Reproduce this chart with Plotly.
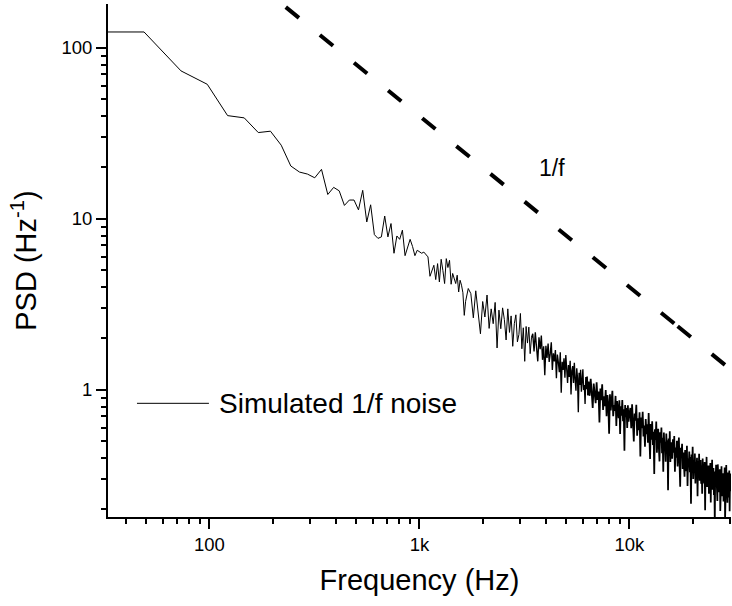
import plotly.graph_objects as go

# ---------------- data ----------------
DF = 24.414  # FFT bin width (Hz)

# individually resolved low-frequency bins 1..70
bins_a = list(range(1, 71))
psd_a = [124, 124, 73.4, 61.3, 40.2, 39.0, 32.0, 32.6, 27.0, 20.4,
         18.8, 18.3, 17.4, 19.5, 13.9, 15.3, 14.6, 12.0, 12.9, 12.9,
         11.3, 14.7, 9.6, 12.1, 8.1, 7.7, 7.85, 10.4, 7.85, 9.4,
         6.3, 7.95, 7.6, 8.6, 6.1, 6.8, 7.6, 6.9, 6.1, 6.56,
         6.4, 6.3, 6.4, 6.2, 6.0, 4.62, 5.0, 5.36, 4.42, 5.48,
         4.28, 5.81, 5.0, 4.19, 5.86, 5.2, 5.73, 4.15, 4.8, 4.5,
         4.19, 4.69, 3.74, 4.38, 4.1, 3.7, 2.73, 3.3, 3.6, 3.92]

bins_b1 = list(range(72, 141, 2))
psd_b1 = [3.66, 2.64, 3.80, 2.81, 2.13, 3.29, 2.67, 3.59, 2.29, 2.98,
          2.44, 3.25, 1.76, 2.93, 2.28, 3.02, 2.58, 1.96, 2.98, 2.17,
          2.71, 1.80, 2.44, 2.75, 1.91, 2.11, 2.80, 1.74, 2.31, 1.47,
          2.35, 1.88, 2.33, 1.63, 2.02]

bins_b2 = list(range(142, 261, 2))
psd_b2 = [2.13, 1.68, 2.17, 1.77, 1.47, 2.03, 1.73, 2.08, 1.50, 1.80,
          1.22, 1.81, 1.54, 1.87, 1.46, 1.63, 1.90, 1.31, 1.64, 1.47,
          1.71, 1.17, 1.61, 1.45, 1.27, 1.66, 0.964, 1.46, 1.31, 1.53,
          1.18, 1.60, 1.31, 1.10, 1.40, 1.19, 1.48, 0.942, 1.30, 1.38,
          1.10, 1.44, 1.16, 0.989, 1.34, 1.17, 0.740, 1.26, 1.07, 1.31,
          0.977, 1.18, 1.32, 0.998, 1.07, 0.829, 1.19, 1.01, 1.20, 0.931]

bins_b3 = list(range(262, 410, 3))
psd_b3 = [1.12, 0.924, 1.16, 0.963, 0.784, 1.09, 0.971, 0.836, 1.11, 0.875,
          0.978, 0.645, 1.02, 0.871, 1.08, 0.764, 0.917, 0.803, 1.00, 0.701,
          0.934, 0.824, 0.555, 0.942, 0.760, 0.868, 0.988, 0.702, 0.817, 0.754,
          0.923, 0.615, 0.860, 0.760, 0.685, 0.870, 0.552, 0.803, 0.707, 0.872,
          0.657, 0.770, 0.441, 0.816, 0.694, 0.783, 0.599, 0.813, 0.653, 0.711]

bins_c1 = list(range(414, 651, 4))
psd_c1 = [0.785, 0.597, 0.825, 0.647, 0.499, 0.728, 0.662, 0.820, 0.540, 0.683,
          0.581, 0.741, 0.408, 0.691, 0.598, 0.746, 0.534, 0.620, 0.465, 0.675,
          0.552, 0.629, 0.491, 0.734, 0.563, 0.395, 0.633, 0.511, 0.656, 0.476,
          0.570, 0.323, 0.589, 0.510, 0.654, 0.429, 0.525, 0.593, 0.456, 0.382,
          0.566, 0.492, 0.603, 0.426, 0.526, 0.332, 0.563, 0.448, 0.498, 0.380,
          0.557, 0.446, 0.508, 0.259, 0.520, 0.412, 0.573, 0.379, 0.458, 0.495]

bins_c2 = list(range(655, 1251, 5))
psd_c2 = [0.396, 0.514, 0.430, 0.537, 0.332, 0.460, 0.401, 0.504, 0.357, 0.430,
          0.527, 0.374, 0.272, 0.459, 0.403, 0.485, 0.345, 0.430, 0.376, 0.311,
          0.445, 0.388, 0.335, 0.471, 0.274, 0.397, 0.353, 0.437, 0.330, 0.406,
          0.216, 0.419, 0.353, 0.465, 0.302, 0.372, 0.327, 0.425, 0.284, 0.378,
          0.344, 0.401, 0.239, 0.383, 0.315, 0.423, 0.295, 0.340, 0.389, 0.283,
          0.361, 0.247, 0.397, 0.310, 0.337, 0.284, 0.379, 0.198, 0.356, 0.306,
          0.406, 0.271, 0.340, 0.297, 0.362, 0.247, 0.340, 0.310, 0.374, 0.220,
          0.339, 0.276, 0.391, 0.261, 0.308, 0.349, 0.243, 0.319, 0.163, 0.334,
          0.296, 0.365, 0.272, 0.319, 0.224, 0.367, 0.282, 0.331, 0.252, 0.296,
          0.344, 0.196, 0.318, 0.281, 0.358, 0.239, 0.298, 0.262, 0.326, 0.223,
          0.332, 0.280, 0.352, 0.175, 0.314, 0.255, 0.364, 0.262, 0.295, 0.219,
          0.329, 0.277, 0.310, 0.235, 0.338, 0.195, 0.294, 0.256, 0.324, 0.276]

# 1/f guide line (drawn in two dashed pieces, as in the original)
guide_f = [231, 16980, 30600]
guide_psd = [173.2, 2.356, 1.307]

# axis ticks
x_major = [100, 1000, 10000]
x_major_text = ["100", "1k", "10k"]
x_minor = [40, 50, 60, 70, 80, 90, 200, 300, 400, 500, 600, 700, 800, 900,
           2000, 3000, 4000, 5000, 6000, 7000, 8000, 9000, 20000, 30000]
y_major = [1, 10, 100]
y_major_text = ["1", "10", "100"]
y_minor = [0.2, 0.3, 0.4, 0.5, 0.6, 0.7, 0.8, 0.9, 2, 3, 4, 5, 6, 7, 8, 9,
           20, 30, 40, 50, 60, 70, 80, 90]

FONT = "Arial, Liberation Sans, sans-serif"

# the spectrum, split in three parts only so the dense high-frequency band
# can be stroked a little heavier (each part starts at the previous part's last bin)
part1_bins = bins_a + bins_b1
part1_psd = psd_a + psd_b1
part2_bins = part1_bins[-1:] + bins_b2
part2_psd = part1_psd[-1:] + psd_b2
part3_bins = part2_bins[-1:] + bins_b3 + bins_c1 + bins_c2
part3_psd = part2_psd[-1:] + psd_b3 + psd_c1 + psd_c2

# ---------------- figure ----------------
fig = go.Figure()
for b, p, w in [(part1_bins, part1_psd, 1.0),
                (part2_bins, part2_psd, 1.35),
                (part3_bins, part3_psd, 1.75)]:
    fig.add_trace(go.Scatter(x=[k * DF for k in b], y=p, mode="lines",
                             line=dict(color="black", width=w),
                             name="Simulated 1/f noise", showlegend=False))
fig.add_trace(go.Scatter(x=guide_f[0:2], y=guide_psd[0:2], mode="lines",
                         line=dict(color="black", width=4, dash="17px,27px"),
                         showlegend=False))
fig.add_trace(go.Scatter(x=guide_f[1:3], y=guide_psd[1:3], mode="lines",
                         line=dict(color="black", width=4, dash="17px,27px"),
                         showlegend=False))

axis_common = dict(type="log", showline=True, linecolor="black", linewidth=2,
                   ticks="outside", ticklen=10, tickwidth=2, tickcolor="black",
                   showgrid=False, zeroline=False, mirror=False,
                   tickfont=dict(size=18.5, color="black", family=FONT))

fig.update_xaxes(**axis_common, range=[1.517, 4.484],
                 tickmode="array", tickvals=x_major, ticktext=x_major_text,
                 minor=dict(ticks="outside", ticklen=5, tickwidth=1.5,
                            tickcolor="black", tickmode="array",
                            tickvals=x_minor, showgrid=False),
                 title=dict(text="Frequency (Hz)", standoff=15,
                            font=dict(size=29, color="black", family=FONT)))
fig.update_yaxes(**axis_common, range=[-0.743, 2.257],
                 tickmode="array", tickvals=y_major, ticktext=y_major_text,
                 minor=dict(ticks="outside", ticklen=5, tickwidth=1.5,
                            tickcolor="black", tickmode="array",
                            tickvals=y_minor, showgrid=False),
                 title=dict(text="PSD (Hz<sup>-1</sup>)", standoff=16,
                            font=dict(size=29, color="black", family=FONT)))

# manual legend + label
fig.add_shape(type="line", xref="paper", yref="paper",
              x0=0.0465, x1=0.162, y0=0.2216, y1=0.2216,
              line=dict(color="black", width=1))
fig.add_annotation(text="Simulated 1/f noise", xref="paper", yref="paper",
                   x=0.1745, y=0.2216, xanchor="left", yanchor="middle",
                   showarrow=False, font=dict(size=28, color="black", family=FONT))
fig.add_annotation(text="1/f", xref="paper", yref="paper",
                   x=0.7127, y=0.680, xanchor="center", yanchor="middle",
                   showarrow=False, font=dict(size=23, color="black", family=FONT))

fig.update_layout(width=732, height=606,
                  margin=dict(l=108, r=1, t=4, b=89, autoexpand=False),
                  plot_bgcolor="white", paper_bgcolor="white",
                  font=dict(family=FONT, color="black"),
                  showlegend=False, hovermode=False)

fig.write_html("out.html", config={"displayModeBar": False},
               post_script="document.body.style.margin='0';document.body.style.padding='0';")
